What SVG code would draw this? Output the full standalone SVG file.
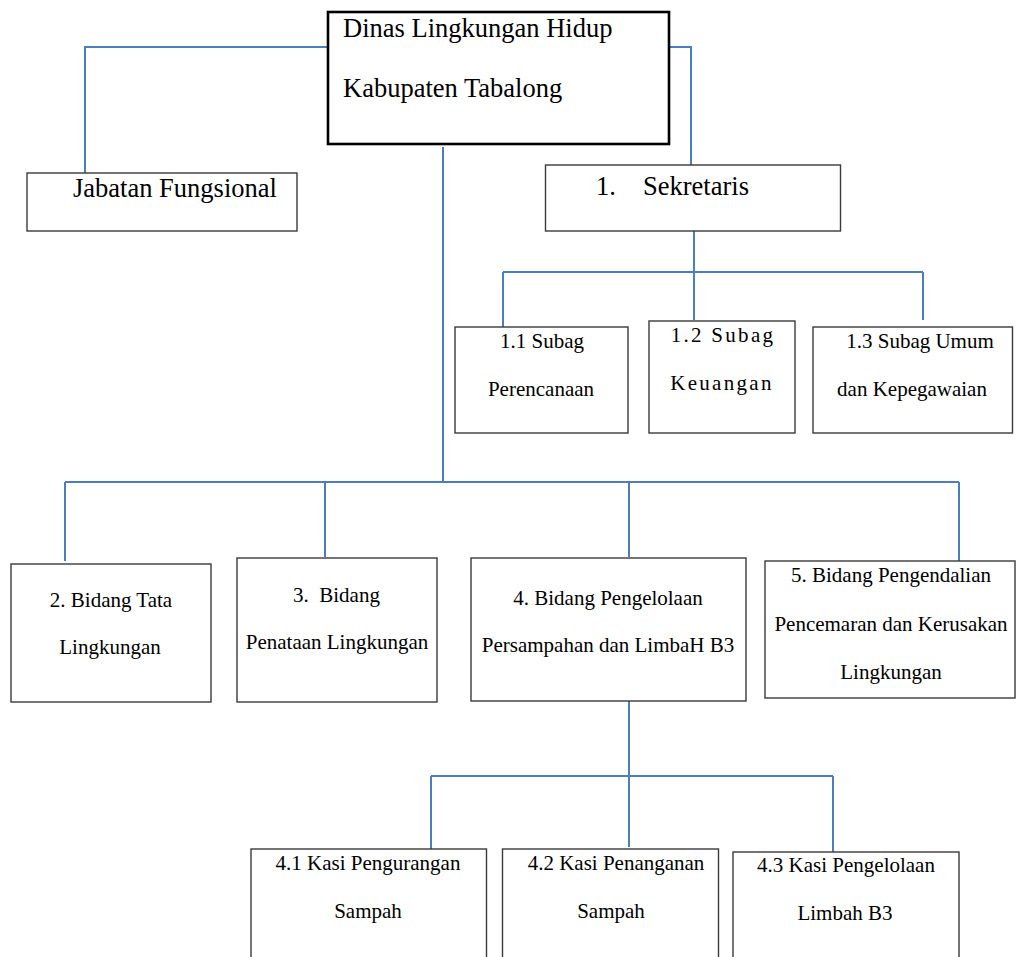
<svg xmlns="http://www.w3.org/2000/svg" width="1016" height="957" viewBox="0 0 1016 957">
<style>
rect.box{fill:#fff;stroke:#3a3a3a;stroke-width:1.4}
rect.main{fill:#fff;stroke:#000;stroke-width:2.6}
#connectors path{fill:none;stroke:#4a7ec0;stroke-width:2}
text{font-family:'Liberation Serif','Times New Roman','DejaVu Serif',serif;fill:#000;font-size:21px}
text.big{font-size:26.5px}
text.c{text-anchor:middle}
text.sp{letter-spacing:2.3px}
</style>
<rect width="1016" height="957" fill="#fff"/>
<g id="connectors">
<path d="M328,47 H85 V173"/>
<path d="M669,47 H691 V165"/>
<path d="M443,147 V482"/>
<path d="M65,482 H959"/>
<path d="M65,482 V561"/>
<path d="M325,482 V557"/>
<path d="M629,482 V557"/>
<path d="M959,482 V561"/>
<path d="M694,231 V272"/>
<path d="M503,272 H923"/>
<path d="M503,272 V327"/>
<path d="M694,272 V320"/>
<path d="M923,272 V320"/>
<path d="M629,701 V847"/>
<path d="M431,776 H833"/>
<path d="M431,776 V851"/>
<path d="M629,776 V847"/>
<path d="M833,776 V852"/>
</g>
<g id="dinas">
<rect class="main" x="328" y="12" width="341" height="132"/>
<text class="big" x="343" y="37">Dinas Lingkungan Hidup</text>
<text class="big" x="343" y="97">Kabupaten Tabalong</text>
</g>
<g id="jabatan">
<rect class="box" x="27" y="173" width="270" height="58"/>
<text class="big" x="73" y="197">Jabatan Fungsional</text>
</g>
<g id="sekretaris">
<rect class="box" x="545.5" y="165" width="295" height="66"/>
<text class="big" x="596" y="195">1.</text>
<text class="big" x="643" y="195">Sekretaris</text>
</g>
<g id="subag11">
<rect class="box" x="455" y="327" width="173" height="106"/>
<text class="c" x="542" y="348">1.1 Subag</text>
<text class="c" x="541" y="396">Perencanaan</text>
</g>
<g id="subag12">
<rect class="box" x="649" y="321" width="146" height="112"/>
<text class="c sp" x="723" y="342">1.2 Subag</text>
<text class="c sp" x="722" y="390">Keuangan</text>
</g>
<g id="subag13">
<rect class="box" x="813" y="327" width="199.5" height="106"/>
<text class="c" x="920" y="348">1.3 Subag Umum</text>
<text class="c" x="912" y="396">dan Kepegawaian</text>
</g>
<g id="bidang2">
<rect class="box" x="11" y="564" width="200" height="138"/>
<text class="c" x="111" y="607">2. Bidang Tata</text>
<text class="c" x="110" y="654">Lingkungan</text>
</g>
<g id="bidang3">
<rect class="box" x="237" y="558" width="200" height="144"/>
<text x="293" y="602" xml:space="preserve">3.  Bidang</text>
<text class="c" x="337" y="649">Penataan Lingkungan</text>
</g>
<g id="bidang4">
<rect class="box" x="471" y="558" width="275" height="143"/>
<text class="c" x="608" y="605">4. Bidang Pengelolaan</text>
<text class="c" x="608" y="652">Persampahan dan LimbaH B3</text>
</g>
<g id="bidang5">
<rect class="box" x="765" y="561" width="250" height="137"/>
<text class="c" x="891" y="582">5. Bidang Pengendalian</text>
<text class="c" x="891" y="631">Pencemaran dan Kerusakan</text>
<text class="c" x="891" y="679">Lingkungan</text>
</g>
<g id="kasi41">
<rect class="box" x="251" y="849" width="235.5" height="120"/>
<text class="c" x="368" y="870">4.1 Kasi Pengurangan</text>
<text class="c" x="368" y="918">Sampah</text>
</g>
<g id="kasi42">
<rect class="box" x="502.5" y="849" width="216" height="120"/>
<text class="c" x="616" y="870">4.2 Kasi Penanganan</text>
<text class="c" x="611" y="918">Sampah</text>
</g>
<g id="kasi43">
<rect class="box" x="733" y="852" width="226" height="120"/>
<text class="c" x="846" y="872">4.3 Kasi Pengelolaan</text>
<text class="c" x="845" y="920">Limbah B3</text>
</g>
</svg>
